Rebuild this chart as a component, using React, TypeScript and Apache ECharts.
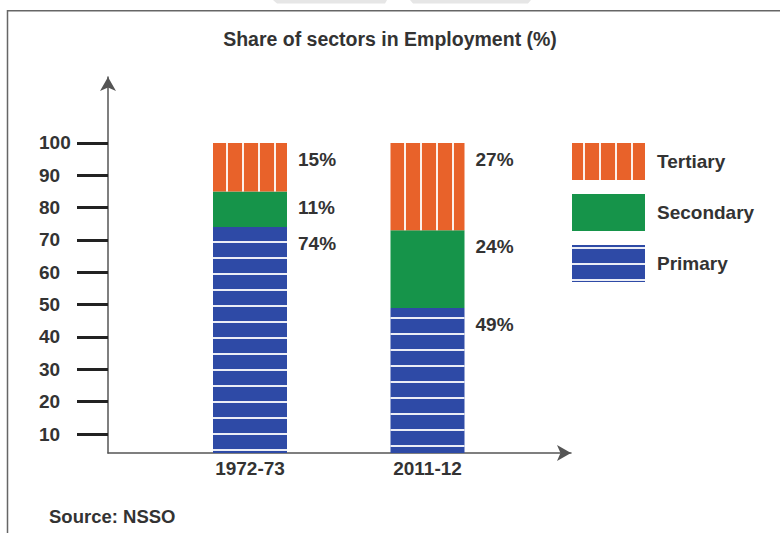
import React, { useEffect, useRef } from "react";
import * as echarts from "echarts";

const categories = ["1972-73", "2011-12"];
const primary = [74, 49];
const secondary = [11, 24];
const tertiary = [15, 27];
const yTickValues = [10, 20, 30, 40, 50, 60, 70, 80, 90, 100];
const legendNames = ["Tertiary", "Secondary", "Primary"];
const titleText = "Share of sectors in Employment (%)";
const sourceText = "Source: NSSO";

const BLUE = "#2E4AA6";
const GREEN = "#16944A";
const ORANGE = "#E8622A";
const TXT = "#333333";
const FONT = "'Liberation Sans', Arial, sans-serif";

const stripe = "rgba(255,255,255,0.9)";
const hLines = (off: number) => ({
  symbol: "rect",
  symbolSize: 1,
  symbolKeepAspect: false,
  color: stripe,
  dashArrayX: [1, 0],
  dashArrayY: [0, off, 2, 14 - off],
});
const vLines = (off: number) => ({
  symbol: "rect",
  symbolSize: 1,
  symbolKeepAspect: false,
  color: stripe,
  dashArrayX: [[0, off, 2, 14 - off]],
  dashArrayY: [1, 0],
});

const primaryPhase = [1, 13];
const tertiaryPhase = [2, 4];

const Y_MIN = 4.124;
const Y_MAX = 120.41;

export default function App() {
  const ref = useRef<HTMLDivElement>(null);
  useEffect(() => {
    if (!ref.current) return;
    const chart = echarts.init(ref.current, null, { renderer: "svg" });
    const label = {
      show: true,
      position: [85, 7],
      align: "left",
      verticalAlign: "top",
      formatter: "{c}%",
      color: TXT,
      fontSize: 19,
      fontWeight: "bold",
      fontFamily: FONT,
    };
    const option: any = {
      animation: false,
      backgroundColor: "#ffffff",
      textStyle: { fontFamily: FONT },
      title: [
        {
          text: titleText,
          left: "center",
          top: 29,
          padding: 0,
          textStyle: { fontSize: 19.5, fontWeight: "bold", color: TXT, fontFamily: FONT },
        },
        {
          text: sourceText,
          left: 49,
          top: 507,
          padding: 0,
          textStyle: { fontSize: 18.5, fontWeight: "bold", color: TXT, fontFamily: FONT },
        },
      ],
      legend: {
        data: legendNames,
        orient: "vertical",
        left: 572,
        top: 143,
        padding: 0,
        icon: "rect",
        itemWidth: 73,
        itemHeight: 37,
        itemGap: 14,
        selectedMode: false,
        textStyle: {
          fontSize: 19,
          fontWeight: "bold",
          color: TXT,
          fontFamily: FONT,
          padding: [0, 0, 0, 7],
        },
      },
      grid: [
        { left: 108, right: 209, top: 77, bottom: 80 },
        { left: 161.25, right: 263.75, top: 77, bottom: 80 },
      ],
      xAxis: [
        {
          type: "value",
          gridIndex: 0,
          min: 0,
          max: 1,
          axisLine: {
            show: true,
            onZero: false,
            symbol: ["none", "arrow"],
            symbolSize: [12, 14],
            lineStyle: { color: "#555555", width: 1.5 },
          },
          axisTick: { show: false },
          axisLabel: { show: false },
          splitLine: { show: false },
        },
        {
          type: "category",
          gridIndex: 1,
          data: categories,
          axisLine: { show: false },
          axisTick: { show: false },
          axisLabel: {
            interval: 0,
            margin: 6,
            fontSize: 19,
            fontWeight: "bold",
            color: TXT,
            fontFamily: FONT,
          },
        },
      ],
      yAxis: [
        {
          type: "value",
          gridIndex: 0,
          min: Y_MIN,
          max: Y_MAX,
          axisLine: {
            show: true,
            onZero: false,
            symbol: ["none", "arrow"],
            symbolSize: [12, 14],
            lineStyle: { color: "#555555", width: 1.5 },
          },
          axisTick: {
            show: true,
            length: 31,
            customValues: yTickValues,
            lineStyle: { color: "#222222", width: 3 },
          },
          axisLabel: {
            customValues: yTickValues,
            align: "left",
            margin: 69,
            fontSize: 19,
            fontWeight: "bold",
            color: TXT,
            fontFamily: FONT,
          },
          splitLine: { show: false },
        },
        {
          type: "value",
          gridIndex: 1,
          min: Y_MIN,
          max: Y_MAX,
          show: false,
        },
      ],
      series: [
        {
          name: "Primary",
          type: "bar",
          stack: "total",
          xAxisIndex: 1,
          yAxisIndex: 1,
          barWidth: 74,
          clip: true,
          itemStyle: { color: BLUE, decal: hLines(2) },
          label,
          data: primary.map((v, i) => ({ value: v, itemStyle: { decal: hLines(primaryPhase[i]) } })),
        },
        {
          name: "Secondary",
          type: "bar",
          stack: "total",
          xAxisIndex: 1,
          yAxisIndex: 1,
          barWidth: 74,
          clip: true,
          itemStyle: { color: GREEN },
          label,
          data: secondary,
        },
        {
          name: "Tertiary",
          type: "bar",
          stack: "total",
          xAxisIndex: 1,
          yAxisIndex: 1,
          barWidth: 74,
          clip: true,
          itemStyle: { color: ORANGE, decal: vLines(11) },
          label,
          data: tertiary.map((v, i) => ({ value: v, itemStyle: { decal: vLines(tertiaryPhase[i]) } })),
        },
      ],
      graphic: [
        {
          type: "polyline",
          silent: true,
          shape: { points: [[7.5, 533], [7.5, 10.7], [780, 10.7]] },
          style: { stroke: "#666666", lineWidth: 1.5, fill: null },
        },
        {
          type: "polygon",
          silent: true,
          shape: { points: [[273, 0], [387, 0], [385, 3.5], [277, 3.5]] },
          style: { fill: "#e6e6e6" },
        },
        {
          type: "polygon",
          silent: true,
          shape: { points: [[410, 0], [531, 0], [528, 3.5], [413, 3.5]] },
          style: { fill: "#e6e6e6" },
        },
      ],
    };
    chart.setOption(option);
    return () => chart.dispose();
  }, []);
  return (
    <div
      ref={ref}
      style={{ position: "absolute", left: 0, top: 0, width: 780, height: 533 }}
    />
  );
}
